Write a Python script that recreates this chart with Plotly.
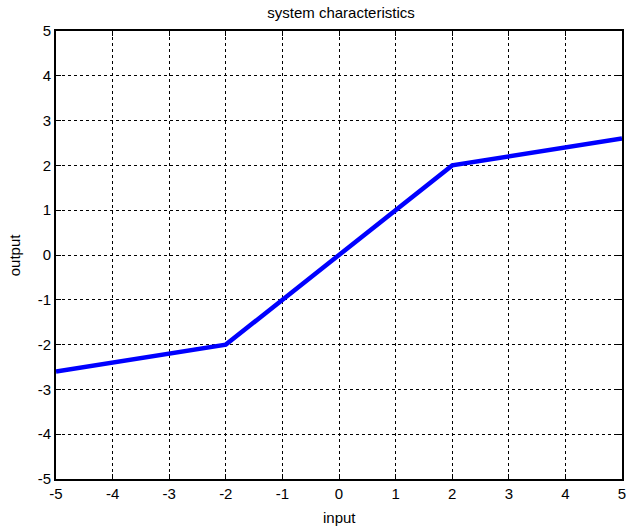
import plotly.graph_objects as go

# data
x_vals = [-5, -2, 0, 2, 5]
y_vals = [-2.6, -2, 0, 2, 2.6]
x_ticks = [-5, -4, -3, -2, -1, 0, 1, 2, 3, 4, 5]
y_ticks = [-5, -4, -3, -2, -1, 0, 1, 2, 3, 4, 5]

W, H = 632, 528
L, R, T, B = 56, 6, 31, 49

fig = go.Figure()
fig.add_trace(go.Scatter(x=x_vals, y=y_vals, mode="lines",
                         line=dict(color="#0000ff", width=4.5), showlegend=False))

font = dict(family="Liberation Sans, Arial, sans-serif", size=15, color="black")
axis_common = dict(
    showline=True, linecolor="black", linewidth=2, mirror="ticks",
    ticks="inside", ticklen=5, tickwidth=1, tickcolor="black",
    showgrid=True, gridcolor="black", gridwidth=1, griddash="dot",
    zeroline=False, tickfont=font,
)
fig.update_xaxes(range=[-5, 5], tickvals=x_ticks,
                 ticktext=[str(v) for v in x_ticks], **axis_common)
fig.update_yaxes(range=[-5, 5], tickvals=y_ticks,
                 ticktext=[str(v) for v in y_ticks], **axis_common)

fig.update_layout(
    width=W, height=H,
    margin=dict(l=L, r=R, t=T, b=B, pad=0),
    paper_bgcolor="white", plot_bgcolor="white",
    font=font,
    title=dict(text="system characteristics", x=(L + (W - L - R) / 2) / W, xanchor="center",
               y=1 - 13 / H, yanchor="middle", yref="container",
               font=dict(family="Liberation Sans, Arial, sans-serif", size=15, color="black")),
    annotations=[
        dict(text="input", xref="paper", yref="paper", x=0.5, y=-(517 - (H - B)) / (H - T - B),
             xanchor="center", yanchor="middle", showarrow=False, font=font),
        dict(text="output", xref="paper", yref="paper", x=-(L - 14) / (W - L - R), y=0.5,
             xanchor="center", yanchor="middle", textangle=-90, showarrow=False, font=font),
    ],
)

fig.write_html("out.html")
